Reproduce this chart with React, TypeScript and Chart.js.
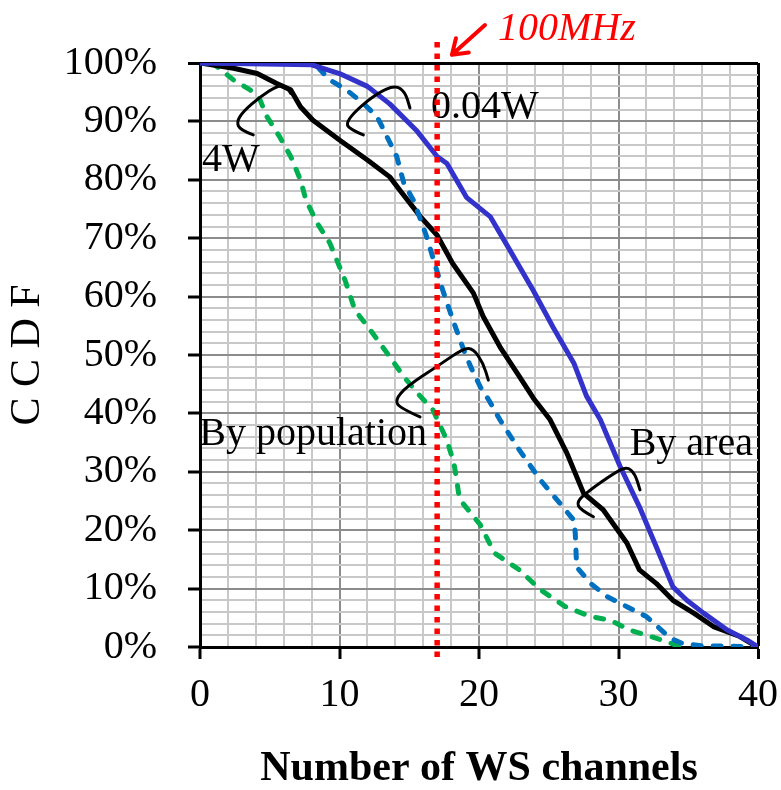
import React, { useEffect, useRef } from "react";
import { Chart, registerables } from "chart.js";

Chart.register(...registerables);

// ---- data ----
// By area, 0.04W (blue solid)
const areaLowX = [0, 8, 10, 12, 13.6, 15.5, 17, 17.7, 19.1, 20.8, 22.2, 23.9, 25.3, 26.8, 27.7, 28.7, 30.1, 31.5, 32.7, 33.9, 34.9, 36.1, 37.8, 39.2, 40];
const areaLowY = [100, 99.7, 98.2, 96, 93, 88.5, 84, 82.8, 77, 73.7, 68, 61, 54.8, 48.6, 43, 38.9, 31, 24, 17.2, 10.3, 8, 5.8, 2.9, 1.2, 0];

// By area, 4W (black solid)
const areaHighX = [0, 2.4, 4.1, 5.5, 6.5, 7.2, 8.1, 10, 12, 13.6, 14.3, 15.8, 17, 18.1, 19.6, 20.3, 21.5, 22.9, 23.9, 25.1, 26.3, 27.5, 28.9, 30.6, 31.5, 32.7, 33.9, 35.4, 36.8, 38.7, 39.6];
const areaHighY = [100, 99.1, 98.2, 96.5, 95.4, 92.5, 90.2, 86.8, 83.4, 80.5, 78.3, 73.7, 70.5, 65.7, 60.6, 56.6, 51.4, 46.3, 42.6, 38.9, 33.2, 26.3, 23.5, 17.8, 13.2, 10.9, 8, 5.8, 3.5, 1.8, 0.5];

// By population, 0.04W (blue dashed)
const popLowX = [0, 8, 8.4, 9.3, 10.5, 11.7, 12.7, 13.4, 14.1, 14.6, 15.3, 16.2, 17.4, 18.2, 18.9, 19.4, 20.1, 20.7, 21.5, 22.9, 24.4, 25.8, 26.8, 26.9, 27, 28, 29.2, 30.6, 32, 32.8, 33.7, 34.6, 36, 38.9, 40];
const popLowY = [100, 100, 99.4, 97.1, 95.4, 93.1, 90.8, 87.4, 84, 79.5, 76.5, 70.6, 61.1, 55.5, 50.9, 48, 44.5, 42.3, 38.9, 33.7, 28.6, 24.6, 21.7, 19.5, 13.7, 10.9, 8.6, 6.9, 5.2, 3.5, 1.5, 0.6, 0.2, 0.1, 0];

// By population, 4W (green dashed)
const popHighX = [0.8, 1.2, 2.4, 3.6, 4.3, 4.8, 5.7, 6.5, 7.2, 7.6, 8.4, 9.3, 10.4, 11.1, 12.2, 13.6, 14.6, 15.8, 16.7, 17.7, 18.2, 18.4, 18.6, 20.1, 21.1, 22.9, 24.4, 26.2, 28, 29.4, 30.8, 32.3, 33.7, 34.4];
const popHighY = [100, 99.4, 97.1, 95.4, 93.7, 90.8, 87.4, 84, 80, 76.5, 72.6, 69.2, 62.8, 57.7, 54.3, 49.7, 46.3, 42.9, 40.6, 35.4, 31.5, 28.6, 25.3, 20.9, 16.1, 13.2, 9.8, 6.9, 5.2, 4.6, 2.9, 1.8, 0.7, 0];

// axis
const xMin = 0, xMax = 40, xStep = 2, xLabelEvery = 10;
const yMin = 0, yMax = 100, yStep = 2, yLabelEvery = 10;
const xTitle = "Number of WS channels";
const yTitle = "C C D F";

// annotations (data units)
const markerX = 17;
const markerLabel = "100MHz";
const notes = [
  { text: "4W", x: 0.14, y: 81.5 },
  { text: "0.04W", x: 16.56, y: 90.6 },
  { text: "By population", x: -0.05, y: 34.6 },
  { text: "By area", x: 30.8, y: 32.9 },
];
const braces: number[][][] = [
  [[3.82, 87.7], [2.87, 88.5], [2.63, 89.95], [3.1, 91.7], [4.3, 94.2], [5.61, 96.2], [6.22, 95.9], [6.5, 94.8]],
  [[11.71, 87.7], [10.63, 88.8], [10.52, 89.95], [11.23, 91.95], [12.67, 94.8], [13.98, 96.2], [14.7, 95.1], [15.05, 92.3]],
  [[15.77, 39.4], [14.34, 40.9], [13.98, 42.3], [14.82, 44.6], [16.97, 48], [18.87, 51.1], [19.59, 51.1], [20.3, 48.6], [20.67, 45.7]],
  [[28.2, 22.3], [27.24, 23.5], [27.0, 24.9], [27.96, 26.9], [29.63, 29.7], [30.59, 30.9], [31.18, 29.7], [31.54, 26.9]],
];
const arrowFrom = [20.43, 106.5];
const arrowTo = [18.06, 101.4];
const labelPos = [21.36, 103.9];

const FONT = '"Liberation Serif", "Times New Roman", serif';

const pairs = (xs: number[], ys: number[]) => xs.map((x, i) => ({ x, y: ys[i] }));

const overlay = {
  id: "overlay",
  afterDatasetsDraw(chart: any) {
    const { ctx } = chart;
    const sx = chart.scales.x;
    const sy = chart.scales.y;
    const px = (v: number) => sx.getPixelForValue(v);
    const py = (v: number) => sy.getPixelForValue(v);
    ctx.save();
    // braces
    ctx.strokeStyle = "#000";
    ctx.lineWidth = 3;
    ctx.lineCap = "round";
    ctx.lineJoin = "round";
    for (const b of braces) {
      const pts = b.map(([a, c]) => [px(a), py(c)]);
      ctx.beginPath();
      ctx.moveTo(pts[0][0], pts[0][1]);
      for (let i = 1; i < pts.length - 1; i++) {
        const mx = (pts[i][0] + pts[i + 1][0]) / 2;
        const my = (pts[i][1] + pts[i + 1][1]) / 2;
        ctx.quadraticCurveTo(pts[i][0], pts[i][1], mx, my);
      }
      const last = pts[pts.length - 1];
      ctx.lineTo(last[0], last[1]);
      ctx.stroke();
    }
    // notes
    ctx.fillStyle = "#000";
    ctx.font = `40px ${FONT}`;
    ctx.textAlign = "left";
    ctx.textBaseline = "alphabetic";
    for (const n of notes) ctx.fillText(n.text, px(n.x), py(n.y));
    // red dotted marker
    ctx.strokeStyle = "#ff0000";
    ctx.lineWidth = 5.5;
    ctx.lineCap = "butt";
    ctx.setLineDash([5.5, 6]);
    ctx.beginPath();
    ctx.moveTo(px(markerX), py(103.6));
    ctx.lineTo(px(markerX), py(-2.2));
    ctx.stroke();
    ctx.setLineDash([]);
    // arrow
    const ax0 = px(arrowFrom[0]), ay0 = py(arrowFrom[1]);
    const ax1 = px(arrowTo[0]), ay1 = py(arrowTo[1]);
    ctx.lineWidth = 4;
    ctx.lineCap = "round";
    ctx.beginPath();
    ctx.moveTo(ax0, ay0);
    ctx.lineTo(ax1, ay1);
    const ang = Math.atan2(ay0 - ay1, ax0 - ax1);
    const wing = 17, spread = 0.6;
    ctx.moveTo(ax1 + wing * Math.cos(ang - spread), ay1 + wing * Math.sin(ang - spread));
    ctx.lineTo(ax1, ay1);
    ctx.lineTo(ax1 + wing * Math.cos(ang + spread), ay1 + wing * Math.sin(ang + spread));
    ctx.stroke();
    ctx.fillStyle = "#ff0000";
    ctx.font = `italic 40px ${FONT}`;
    ctx.fillText(markerLabel, px(labelPos[0]), py(labelPos[1]));
    ctx.restore();
  },
};

function gridColor(v: number, edge: number) {
  if (v === edge) return "#000";
  if (v % 10 === 0) return "#8c8c8c";
  return "#c8c8c8";
}

export default function App() {
  const ref = useRef<HTMLCanvasElement | null>(null);
  useEffect(() => {
    if (!ref.current) return;
    Chart.defaults.font.family = FONT;
    const chart = new Chart(ref.current, {
      type: "line",
      data: {
        datasets: [
          {
            label: "By area, 0.04W",
            data: pairs(areaLowX, areaLowY),
            borderColor: "#3333cc",
            borderWidth: 5,
            pointRadius: 0,
            borderCapStyle: "round",
            borderJoinStyle: "round",
          },
          {
            label: "By population, 0.04W",
            data: pairs(popLowX, popLowY),
            borderColor: "#0070c0",
            borderWidth: 5,
            borderDash: [8, 12],
            borderCapStyle: "round",
            pointRadius: 0,
          },
          {
            label: "By area, 4W",
            data: pairs(areaHighX, areaHighY),
            borderColor: "#000000",
            borderWidth: 5,
            pointRadius: 0,
            borderCapStyle: "round",
            borderJoinStyle: "round",
          },
          {
            label: "By population, 4W",
            data: pairs(popHighX, popHighY),
            borderColor: "#00b050",
            borderWidth: 5,
            borderDash: [8, 12],
            borderCapStyle: "round",
            pointRadius: 0,
          },
        ],
      },
      options: {
        animation: false,
        responsive: false,
        events: [],
        layout: { padding: { left: 0, right: 23, top: 63, bottom: 0 } },
        plugins: { legend: { display: false }, tooltip: { enabled: false } },
        scales: {
          x: {
            type: "linear",
            min: xMin,
            max: xMax,
            afterFit: (s: any) => {
              s.height = 143;
              s.paddingLeft = 0;
              s.paddingRight = 0;
            },
            ticks: {
              stepSize: xStep,
              autoSkip: false,
              maxRotation: 0,
              padding: 12,
              color: "#000",
              font: { size: 40, family: FONT },
              callback: (v: any) => (Number(v) % xLabelEvery === 0 ? String(v) : ""),
            },
            grid: {
              color: (c: any) => gridColor(c.tick ? c.tick.value : 0, xMax),
              lineWidth: (c: any) => (c.tick && c.tick.value === xMax ? 3 : 2),
              tickColor: (c: any) => (c.tick && c.tick.value % xLabelEvery === 0 ? "#000" : "rgba(0,0,0,0)"),
              tickLength: 12,
              tickWidth: 3,
            },
            border: { color: "#000", width: 3 },
            title: {
              display: true,
              text: xTitle,
              color: "#000",
              font: { size: 42, weight: "bold", family: FONT, lineHeight: 1 },
              padding: { top: 0, bottom: 0 },
            },
          },
          y: {
            min: yMin,
            max: yMax,
            afterFit: (s: any) => {
              s.width = 200;
              s.paddingTop = 0;
              s.paddingBottom = 0;
            },
            ticks: {
              stepSize: yStep,
              autoSkip: false,
              padding: 31,
              color: "#000",
              font: { size: 40, family: FONT },
              callback: (v: any) => (Number(v) % yLabelEvery === 0 ? v + "%" : ""),
            },
            grid: {
              color: (c: any) => gridColor(c.tick ? c.tick.value : 0, yMax),
              lineWidth: (c: any) => (c.tick && c.tick.value === yMax ? 3 : 2),
              tickColor: (c: any) => (c.tick && c.tick.value % yLabelEvery === 0 ? "#000" : "rgba(0,0,0,0)"),
              tickLength: 12,
              tickWidth: 3,
            },
            border: { color: "#000", width: 3 },
            title: {
              display: true,
              text: yTitle,
              color: "#000",
              font: { size: 42, family: FONT, lineHeight: 1 },
              padding: { top: 7, bottom: 0 },
            },
          },
        },
      },
      plugins: [overlay],
    } as any);
    return () => chart.destroy();
  }, []);
  return (
    <div style={{ position: "absolute", left: 0, top: 0, width: 781, height: 790, background: "#fff" }}>
      <canvas ref={ref} width={781} height={790} style={{ display: "block" }} />
    </div>
  );
}
